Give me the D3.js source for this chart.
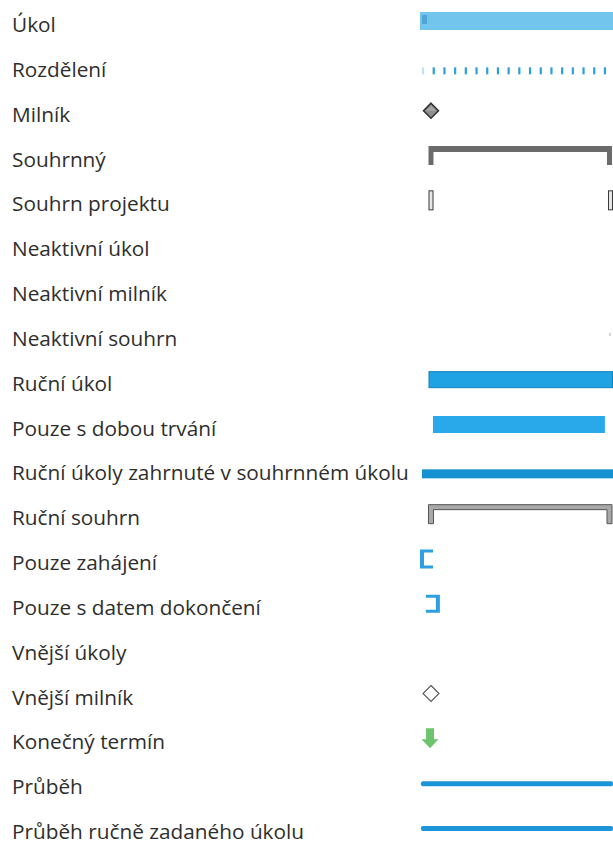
<!DOCTYPE html>
<html><head><meta charset="utf-8">
<script src="https://cdn.jsdelivr.net/npm/d3@7"></script>
<style>html,body{margin:0;padding:0;background:#fff;}svg{display:block;}</style>
</head><body>
<svg id="c" width="613" height="846"></svg>
<script>
const labels = ["Úkol","Rozdělení","Milník","Souhrnný","Souhrn projektu","Neaktivní úkol","Neaktivní milník","Neaktivní souhrn","Ruční úkol","Pouze s dobou trvání","Ruční úkoly zahrnuté v souhrnném úkolu","Ruční souhrn","Pouze zahájení","Pouze s datem dokončení","Vnější úkoly","Vnější milník","Konečný termín","Průběh","Průběh ručně zadaného úkolu"];
const kinds = ["task","split","milestone","summary","projsummary","none","none","inactivesummary","manualtask","duration","manualrollup","manualsummary","startonly","finishonly","none","extmilestone","deadline","progress","progress"];

const svg = d3.select("#c");
const y = d3.scalePoint().domain(labels).range([32, 839]);
const x = d3.scaleLinear().domain([0, 1]).range([420, 613]);

const txt = svg.append("g").selectAll("text").data(labels).join("text")
  .attr("x", 12).attr("y", d => y(d))
  .attr("font-family", "'Open Sans', sans-serif").attr("font-weight", 500)
  .attr("font-size", 18).attr("fill", "#2e2e2e").text(d => d);
const long = txt.filter(d => d.startsWith("Ruční úkoly")).node();
const fs = 18 * 397 / long.getComputedTextLength();
txt.attr("font-size", fs);

const g = svg.append("g");
labels.forEach((lab, i) => {
  const k = kinds[i], cy = y(lab) - 11;
  if (k === "task") {
    g.append("rect").attr("x", x(0)).attr("y", cy - 9).attr("width", x(1) - x(0)).attr("height", 18).attr("fill", "#72c6ee");
    g.append("rect").attr("x", x(0) + 2).attr("y", cy - 6).attr("width", 5).attr("height", 9).attr("fill", "#3a8fc8").attr("opacity", 0.6);
  } else if (k === "split") {
    const c = y(lab) - 6;
    d3.range(x(0.01), x(1), 10.7).forEach((px, j) => {
      g.append("rect").attr("x", px).attr("y", c - 3.5).attr("width", 2.2).attr("height", 7)
        .attr("fill", "#2a9fe4").attr("opacity", j === 0 ? 0.3 : 1);
    });
  } else if (k === "milestone") {
    const s = 7.5, cx = x(0.057);
    g.append("path").attr("d", `M${cx},${cy - s}L${cx + s},${cy}L${cx},${cy + s}L${cx - s},${cy}Z`)
      .attr("fill", "#8e8e8e").attr("stroke", "#2e2e2e").attr("stroke-width", 1.5);
    g.append("path").attr("d", `M${cx},${cy - s + 2.5}L${cx + s - 2.5},${cy}L${cx - s + 2.5},${cy}Z`).attr("fill", "#b5b5b5").attr("opacity", 0.6);
  } else if (k === "summary" || k === "manualsummary") {
    const x0 = x(0.044), x1 = x(1) - 1, top = cy - 9.5, bot = cy + 9.5;
    const th = k === "summary" ? 6 : 5, lw = 5;
    const col = k === "summary" ? "#6b6b6b" : "#6f6f6f";
    g.append("path").attr("d", `M${x0},${top}H${x1}V${bot}H${x1 - lw}V${top + th}H${x0 + lw}V${bot}H${x0}Z`)
      .attr("fill", k === "summary" ? col : "#a8a8a8").attr("stroke", k === "summary" ? "none" : "#555").attr("stroke-width", 1);
  } else if (k === "projsummary") {
    [x(0.044), x(1) - 5].forEach(px => {
      g.append("rect").attr("x", px + 0.5).attr("y", cy - 9.5).attr("width", 4).attr("height", 19)
        .attr("fill", "#e6e6e6").attr("stroke", "#3a3a3a").attr("stroke-width", 1);
    });
  } else if (k === "inactivesummary") {
    g.append("rect").attr("x", x(1) - 4).attr("y", cy - 2).attr("width", 2).attr("height", 3).attr("fill", "#d0d0d0");
  } else if (k === "manualtask") {
    g.append("rect").attr("x", x(0.044) + 0.5).attr("y", cy - 8).attr("width", x(1) - x(0.044) - 1).attr("height", 16)
      .attr("fill", "#1fa3e3").attr("stroke", "#137fbf").attr("stroke-width", 1);
  } else if (k === "duration") {
    g.append("rect").attr("x", x(0.067)).attr("y", cy - 8.5).attr("width", x(0.958) - x(0.067)).attr("height", 17)
      .attr("fill", "#29a9ea");
  } else if (k === "manualrollup") {
    const c = y(lab) - 6.5;
    g.append("rect").attr("x", x(0.01)).attr("y", c - 4.5).attr("width", x(1) - x(0.01)).attr("height", 9)
      .attr("fill", "#1592d2");
  } else if (k === "startonly") {
    const x0 = x(0), t = cy - 9.5, b = cy + 9.5;
    g.append("path").attr("d", `M${x0},${t}H${x0 + 13}V${t + 3}H${x0 + 4}V${b - 3}H${x0 + 13}V${b}H${x0}Z`).attr("fill", "#2d9fe2");
  } else if (k === "finishonly") {
    const x1 = x(0.103), t = cy - 9, b = cy + 9;
    g.append("path").attr("d", `M${x1},${t}H${x1 - 14}V${t + 3}H${x1 - 4}V${b - 3}H${x1 - 14}V${b}H${x1}Z`).attr("fill", "#2d9fe2");
  } else if (k === "extmilestone") {
    const s = 8, cx = x(0.057);
    g.append("path").attr("d", `M${cx},${cy - s}L${cx + s},${cy}L${cx},${cy + s}L${cx - s},${cy}Z`)
      .attr("fill", "#fff").attr("stroke", "#555").attr("stroke-width", 1.1);
  } else if (k === "deadline") {
    const cx = x(0.052);
    g.append("path").attr("d", `M${cx - 4},${cy - 10}H${cx + 4}V${cy + 1}H${cx + 8.5}L${cx},${cy + 10}L${cx - 8.5},${cy + 1}H${cx - 4}Z`)
      .attr("fill", "#6cc56c");
  } else if (k === "progress") {
    const c = y(lab) - 10.5;
    g.append("rect").attr("x", x(0.005)).attr("y", c - 2.5).attr("width", x(1) - x(0.005)).attr("height", 5)
      .attr("rx", 2).attr("fill", "#1b95d7");
  }
});
</script>
</body></html>
